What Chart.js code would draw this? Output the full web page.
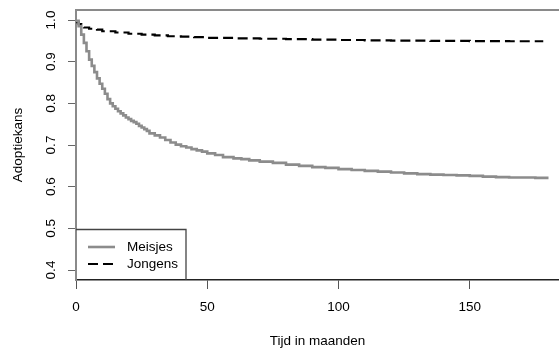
<!DOCTYPE html>
<html>
<head>
<meta charset="utf-8">
<script src="https://cdn.jsdelivr.net/npm/chart.js@4/dist/chart.umd.min.js"></script>
<style>
  html, body { margin: 0; padding: 0; background: #fff; overflow: hidden; }
  #wrap { position: relative; width: 559px; height: 349px; }
</style>
</head>
<body>
<div id="wrap"><canvas id="c" width="559" height="349"></canvas></div>
<script>
// Kaplan-Meier style survival estimates per group (time in months)
const girlsMonths = [0,1,2,3,4,5,6,7,8,9,10,11,12,13,14,15,16,17,18,19,20,21,22,23,24,25,26,27,28,30,32,34,36,38,40,42,44,46,48,50,53,56,60,63,66,70,75,80,85,90,95,100,105,110,115,120,125,130,135,140,145,150,155,160,165,170,175,180];
const girlsSurv   = [1.000,0.998,0.985,0.965,0.945,0.925,0.905,0.890,0.875,0.860,0.847,0.835,0.823,0.810,0.800,0.793,0.787,0.781,0.776,0.771,0.766,0.762,0.758,0.755,0.751,0.746,0.742,0.738,0.734,0.728,0.723,0.718,0.712,0.706,0.701,0.697,0.694,0.690,0.687,0.684,0.680,0.676,0.671,0.668,0.666,0.663,0.660,0.657,0.653,0.650,0.647,0.645,0.642,0.640,0.638,0.636,0.634,0.632,0.630,0.629,0.628,0.627,0.626,0.624,0.623,0.622,0.622,0.621];

const boysMonths = [0,1,2,3,5,8,10,15,20,25,30,35,40,45,50,60,70,80,90,100,110,120,135,150,165,178];
const boysSurv   = [1.000,0.995,0.990,0.986,0.982,0.979,0.977,0.973,0.970,0.967,0.965,0.963,0.961,0.960,0.959,0.957,0.956,0.955,0.954,0.953,0.952,0.951,0.9505,0.950,0.9495,0.949];

const groupLabels = ['Meisjes', 'Jongens'];
const xTicks = [0, 50, 100, 150];
const yTicks = [0.4, 0.5, 0.6, 0.7, 0.8, 0.9, 1.0];

const FONT = '"Liberation Sans", Arial, sans-serif';

const toPoints = (xs, ys) => xs.map((x, i) => ({ x: x, y: ys[i] }));

// Keep the plot box fixed: no extra room for label overhang
const noOverhang = s => {
  s.paddingTop = 0; s.paddingBottom = 0;
  s.paddingLeft = 0; s.paddingRight = 0;
};

// Top frame line and inset legend box in the lower-left corner
const framePlugin = {
  id: 'frameAndLegend',
  afterDatasetsDraw(chart) {
    const { ctx, chartArea: a } = chart;
    ctx.save();
    ctx.strokeStyle = '#8a8a8a';
    ctx.lineWidth = 2;
    ctx.beginPath();
    ctx.moveTo(a.left, a.top);
    ctx.lineTo(a.right, a.top);
    ctx.stroke();

    // legend
    const w = 110, h = 51;
    const lx = a.left, ly = a.bottom - h;
    ctx.fillStyle = '#fff';
    ctx.fillRect(lx + 1, ly, w - 1, h - 1);
    ctx.strokeStyle = '#444';
    ctx.lineWidth = 1.3;
    ctx.beginPath();
    ctx.moveTo(lx, ly + 0.5);
    ctx.lineTo(lx + w, ly + 0.5);
    ctx.lineTo(lx + w, a.bottom);
    ctx.stroke();

    chart.data.datasets.forEach((ds, i) => {
      const y = ly + 18 + i * 17;
      ctx.strokeStyle = ds.borderColor;
      ctx.lineWidth = ds.borderWidth;
      ctx.setLineDash(ds.borderDash || []);
      ctx.beginPath();
      ctx.moveTo(lx + 12, y);
      ctx.lineTo(lx + 39, y);
      ctx.stroke();
      ctx.setLineDash([]);
      ctx.fillStyle = '#000';
      ctx.font = '13.5px ' + FONT;
      ctx.textBaseline = 'middle';
      ctx.textAlign = 'left';
      ctx.fillText(ds.label, lx + 51, y);
    });
    ctx.restore();
  }
};

new Chart(document.getElementById('c'), {
  type: 'line',
  data: {
    datasets: [
      {
        label: groupLabels[0],
        data: toPoints(girlsMonths, girlsSurv),
        borderColor: '#8c8c8c',
        borderWidth: 2.6,
        stepped: 'after',
        pointRadius: 0,
        fill: false
      },
      {
        label: groupLabels[1],
        data: toPoints(boysMonths, boysSurv),
        borderColor: '#000',
        borderWidth: 2.2,
        borderDash: [10, 5],
        stepped: 'after',
        pointRadius: 0,
        fill: false
      }
    ]
  },
  options: {
    responsive: false,
    animation: false,
    layout: { padding: { top: 10, right: 0, bottom: 0, left: 0 } },
    plugins: { legend: { display: false }, tooltip: { enabled: false } },
    scales: {
      x: {
        type: 'linear',
        min: 0,
        max: 184,
        afterBuildTicks: s => { s.ticks = xTicks.map(v => ({ value: v })); },
        afterFit: s => { s.height = 69; noOverhang(s); },
        ticks: {
          autoSkip: false,
          maxRotation: 0,
          padding: 10,
          color: '#000',
          font: { family: FONT, size: 13.5 }
        },
        grid: { drawOnChartArea: false, drawTicks: true, tickLength: 9, color: '#555' },
        border: { display: true, color: '#222', width: 1.5 },
        title: {
          display: true,
          text: 'Tijd in maanden',
          color: '#000',
          font: { family: FONT, size: 13.5 },
          padding: { top: 0, bottom: 0 }
        }
      },
      y: {
        type: 'linear',
        min: 0.376,
        max: 1.024,
        afterBuildTicks: s => { s.ticks = yTicks.map(v => ({ value: v })); },
        afterFit: s => { s.width = 76; noOverhang(s); },
        ticks: {
          autoSkip: false,
          minRotation: 90,
          maxRotation: 90,
          crossAlign: 'center',
          padding: 7.5,
          color: '#000',
          font: { family: FONT, size: 13.5 },
          callback: v => Number(v).toFixed(1)
        },
        grid: { drawOnChartArea: false, drawTicks: true, tickLength: 8, color: '#666' },
        border: { display: true, color: '#8a8a8a', width: 2 },
        title: {
          display: true,
          text: 'Adoptiekans',
          color: '#000',
          font: { family: FONT, size: 13.5 },
          padding: { top: 10, bottom: 0 }
        }
      }
    }
  },
  plugins: [framePlugin]
});
</script>
</body>
</html>
